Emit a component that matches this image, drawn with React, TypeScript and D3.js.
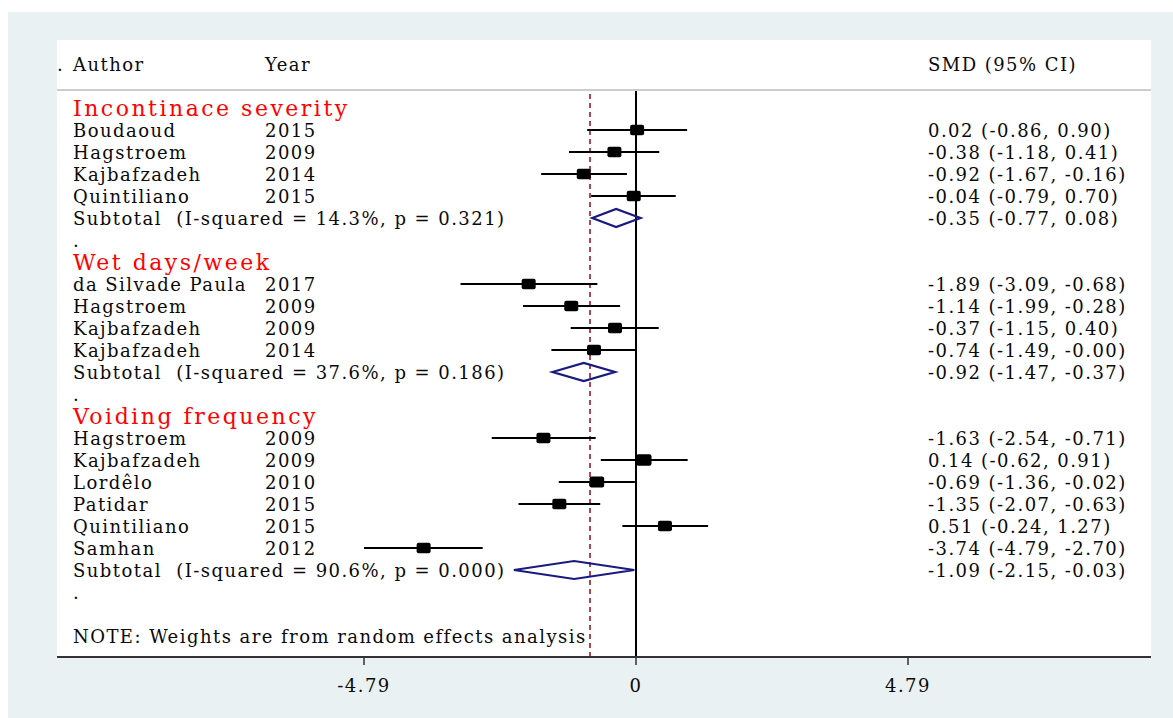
import React from "react";
import * as d3 from "d3";

const groupTitles = ["Incontinace severity", "Wet days/week", "Voiding frequency"];

const studyGroup = [0, 0, 0, 0, 1, 1, 1, 1, 2, 2, 2, 2, 2, 2];
const authors = [
  "Boudaoud", "Hagstroem", "Kajbafzadeh", "Quintiliano",
  "da Silvade Paula", "Hagstroem", "Kajbafzadeh", "Kajbafzadeh",
  "Hagstroem", "Kajbafzadeh", "Lordêlo", "Patidar", "Quintiliano", "Samhan",
];
const years = ["2015", "2009", "2014", "2015", "2017", "2009", "2009", "2014", "2009", "2009", "2010", "2015", "2015", "2012"];
const smd = [0.02, -0.38, -0.92, -0.04, -1.89, -1.14, -0.37, -0.74, -1.63, 0.14, -0.69, -1.35, 0.51, -3.74];
const lo = [-0.86, -1.18, -1.67, -0.79, -3.09, -1.99, -1.15, -1.49, -2.54, -0.62, -1.36, -2.07, -0.24, -4.79];
const hi = [0.90, 0.41, -0.16, 0.70, -0.68, -0.28, 0.40, -0.001, -0.71, 0.91, -0.02, -0.63, 1.27, -2.70];
const weights = [1.0, 1.0, 1.0, 1.0, 1.0, 1.0, 1.0, 1.0, 1.0, 1.08, 1.05, 1.0, 1.0, 1.0];

const subLabels = [
  "Subtotal  (I-squared = 14.3%, p = 0.321)",
  "Subtotal  (I-squared = 37.6%, p = 0.186)",
  "Subtotal  (I-squared = 90.6%, p = 0.000)",
];
const subSmd = [-0.35, -0.92, -1.09];
const subLo = [-0.77, -1.47, -2.15];
const subHi = [0.08, -0.37, -0.03];

const overallSmd = -0.81;
const tickValues = [-4.79, 0, 4.79];
const tickLabels = ["-4.79", "0", "4.79"];
const noteText = "NOTE: Weights are from random effects analysis";

const fmt = (v: number) => (v < 0 && v > -0.005 ? "-0.00" : v.toFixed(2));
const ciText = (m: number, l: number, h: number) => `${fmt(m)} (${fmt(l)}, ${fmt(h)})`;

export default function App() {
  const W = 1173, H = 718;
  const x = d3.scaleLinear().domain([-4.79, 0]).range([364, 636]);
  const y = d3.scaleLinear().domain([0, 24]).range([108, 636]);
  const plotL = 57, plotR = 1151, plotT = 40, axisY = 657;
  const font = "'DejaVu Serif', serif";
  const fs = 18;
  const ls = 1.45;
  const colAuthor = 73, colYear = 265, colCI = 928;
  const ink = "#0a0a0a";
  const T = (props: any) => <text fontSize={fs} letterSpacing={ls} fill={ink} {...props} />;

  type Row = { kind: string; i: number; g: number };
  const rows: Row[] = [];
  groupTitles.forEach((_, g) => {
    rows.push({ kind: "title", i: -1, g });
    studyGroup.forEach((sg, i) => { if (sg === g) rows.push({ kind: "study", i, g }); });
    rows.push({ kind: "sub", i: -1, g });
    rows.push({ kind: "dot", i: -1, g });
  });
  rows.push({ kind: "blank", i: -1, g: -1 });
  rows.push({ kind: "note", i: -1, g: -1 });

  const boxH = 10.5;
  const els: React.ReactNode[] = [];
  rows.forEach((r, k) => {
    const cy = y(k);
    const ty = cy + 6.5;
    if (r.kind === "title") {
      els.push(<text key={"t" + k} x={colAuthor} y={cy + 8} fontSize={22} letterSpacing={2.5} fill="#ff0000">{groupTitles[r.g]}</text>);
    } else if (r.kind === "study") {
      const i = r.i;
      const bw = 14 * weights[i], bh = boxH * weights[i];
      els.push(
        <g key={"s" + k}>
          <T x={colAuthor} y={ty}>{authors[i]}</T>
          <T x={colYear} y={ty}>{years[i]}</T>
          <T x={colCI} y={ty}>{ciText(smd[i], lo[i], hi[i])}</T>
          <line x1={x(lo[i])} x2={x(hi[i])} y1={cy} y2={cy} stroke="#000" strokeWidth={2} />
          <rect x={x(smd[i]) - bw / 2} y={cy - bh / 2} width={bw} height={bh} rx={2} fill="#000" />
        </g>
      );
    } else if (r.kind === "sub") {
      const g = r.g;
      const pts = [
        [x(subLo[g]), cy], [x(subSmd[g]), cy - 9], [x(subHi[g]), cy], [x(subSmd[g]), cy + 9],
      ];
      els.push(
        <g key={"u" + k}>
          <T x={colAuthor} y={ty} style={{ whiteSpace: "pre" }}>{subLabels[g]}</T>
          <T x={colCI} y={ty}>{ciText(subSmd[g], subLo[g], subHi[g])}</T>
          <polygon points={pts.map(p => p.join(",")).join(" ")} fill="none" stroke="#1a1a7e" strokeWidth={2.2} />
        </g>
      );
    } else if (r.kind === "dot") {
      els.push(<T key={"d" + k} x={colAuthor} y={ty}>.</T>);
    } else if (r.kind === "note") {
      els.push(<T key={"n" + k} x={colAuthor} y={ty}>{noteText}</T>);
    }
  });

  return (
    <div style={{ position: "absolute", left: 0, top: 0 }}>
      <svg width={W} height={H} style={{ display: "block", fontFamily: font }}>
        <rect x={0} y={0} width={W} height={H} fill="#fff" />
        <rect x={8} y={12} width={W - 8} height={H - 12} fill="#eaf1f3" />
        <rect x={plotL} y={plotT} width={plotR - plotL} height={axisY - plotT} fill="#fff" />
        <T x={57} y={y(-2) + 6.5}>.</T>
        <T x={colAuthor} y={y(-2) + 6.5}>Author</T>
        <T x={colYear} y={y(-2) + 6.5}>Year</T>
        <T x={colCI} y={y(-2) + 6.5}>SMD (95% CI)</T>
        <line x1={plotL} x2={plotR} y1={90} y2={90} stroke="#bdbdbd" strokeWidth={1.5} />
        <line x1={x(0)} x2={x(0)} y1={91} y2={axisY} stroke="#000" strokeWidth={2} />
        <line x1={x(overallSmd)} x2={x(overallSmd)} y1={94} y2={axisY} stroke="#a0353f" strokeWidth={1.8} strokeDasharray="5,4" />
        {els}
        <line x1={plotL} x2={plotR} y1={axisY} y2={axisY} stroke="#333" strokeWidth={2} />
        {tickValues.map((t, j) => (
          <g key={"k" + j}>
            <line x1={x(t)} x2={x(t)} y1={axisY} y2={axisY + 8} stroke="#333" strokeWidth={1.5} />
            <T x={x(t)} y={692} textAnchor="middle">{tickLabels[j]}</T>
          </g>
        ))}
      </svg>
    </div>
  );
}
